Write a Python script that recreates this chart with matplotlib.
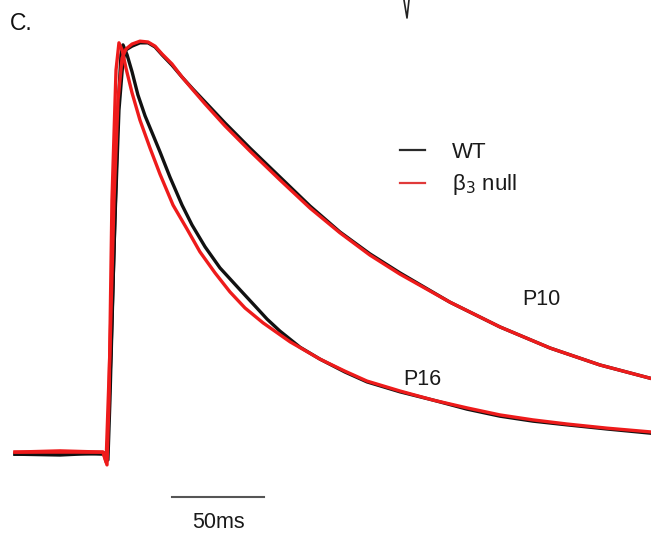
import matplotlib
matplotlib.use("Agg")
import matplotlib.pyplot as plt

plt.rcParams['font.family'] = ['Liberation Sans', 'DejaVu Sans']

# ---- data: time (ms) and normalized amplitude ----
p10_wt_t = [-50, -25.5, -1.6, 0, 2.2, 4.3, 6.5, 8.7, 10.3, 13.6, 17.9, 22.3, 26.1, 29.9,
            35.3, 40.8, 46.7, 53.3, 64.1, 77.7, 94.0, 110.3, 126.6, 142.9, 159.2, 186.4,
            213.6, 240.8, 267.9, 295.1]
p10_wt_a = [0.002, 0.005, 0.002, -0.007, 0.254, 0.569, 0.835, 0.956, 0.981, 0.990, 0.998,
            0.998, 0.988, 0.969, 0.944, 0.915, 0.886, 0.855, 0.804, 0.743, 0.673, 0.603,
            0.540, 0.487, 0.441, 0.370, 0.310, 0.259, 0.218, 0.186]

p10_null_t = [-50, -25.5, -2.2, -0.5, 1.6, 3.8, 6.0, 8.2, 10.3, 13.6, 17.9, 22.3, 26.1,
              29.9, 35.3, 40.8, 46.7, 53.3, 64.1, 77.7, 94.0, 110.3, 126.6, 142.9, 159.2,
              186.4, 213.6, 240.8, 267.9, 295.1]
p10_null_a = [0.007, 0.010, 0.007, -0.017, 0.254, 0.617, 0.860, 0.961, 0.983, 0.995, 1.002,
              1.000, 0.990, 0.971, 0.947, 0.915, 0.884, 0.850, 0.797, 0.736, 0.666, 0.598,
              0.538, 0.484, 0.438, 0.370, 0.310, 0.259, 0.218, 0.186]

p16_wt_t = [-50, -25.5, -1.6, 0.5, 1.6, 3.8, 6.0, 7.6, 8.7, 10.9, 13.6, 16.8, 20.7, 25.0,
            28.8, 34.2, 40.8, 46.2, 53.3, 61.4, 72.3, 80.4, 87.0, 94.0, 104.9, 115.8,
            129.3, 141.3, 159.2, 177.2, 195.7, 213.6, 231.5, 250.0, 271.7, 295.1]
p16_wt_a = [0.002, 0.0, 0.005, -0.012, 0.133, 0.496, 0.835, 0.969, 0.993, 0.969, 0.928,
            0.872, 0.821, 0.775, 0.734, 0.673, 0.605, 0.557, 0.504, 0.453, 0.400, 0.361,
            0.329, 0.300, 0.261, 0.232, 0.201, 0.177, 0.153, 0.133, 0.111, 0.094, 0.082,
            0.073, 0.063, 0.053]

p16_null_t = [-50, -25.5, -2.2, 0, 1.1, 2.7, 4.9, 6.5, 8.2, 10.3, 13.6, 17.9, 23.4, 28.8,
              35.9, 43.5, 50.5, 58.7, 66.8, 75.0, 84.8, 99.5, 115.8, 129.3,
              141.3, 159.2, 177.2, 195.7, 213.6, 231.5, 250.0, 271.7, 295.1]
p16_null_a = [0.007, 0.007, 0.007, -0.024, 0.133, 0.617, 0.932, 0.998, 0.981, 0.937, 0.877,
              0.811, 0.743, 0.680, 0.605, 0.547, 0.492, 0.441, 0.395, 0.356, 0.320, 0.274,
              0.232, 0.203, 0.179, 0.155, 0.133, 0.114, 0.097, 0.085, 0.075, 0.065, 0.056]

legend_labels = ['WT', 'β$_3$ null']
trace_labels = ['P10', 'P16']
scale_bar_ms = 50
scale_bar_label = '50ms'
panel_label = 'C.'

# ---- figure ----
W, H = 651, 537
fig = plt.figure(figsize=(W / 100, H / 100), dpi=100)
ax = fig.add_axes([0, 0, 1, 1])
ax.set_axis_off()

px_per_ms = 1.84
x0 = 107.0
y0, y1 = 455.0, 42.0
amp_px = y0 - y1
ax.set_xlim(-x0 / px_per_ms, (W - x0) / px_per_ms)
ax.set_ylim((y0 - H) / amp_px, y0 / amp_px)

def fp(x, y):
    return x / W, 1 - y / H

BLACK = '#111111'
RED = '#ee1b1b'
lw = 2.4

ax.plot(p10_wt_t, p10_wt_a, color=BLACK, lw=lw, solid_joinstyle='round')
ax.plot(p16_wt_t, p16_wt_a, color=BLACK, lw=lw, solid_joinstyle='round')
ax.plot(p10_null_t, p10_null_a, color=RED, lw=lw, solid_joinstyle='round')
ax.plot(p16_null_t, p16_null_a, color=RED, lw=lw, solid_joinstyle='round')

# legend (manual)
ax.plot([fp(400, 0)[0], fp(425, 0)[0]], [fp(0, 150)[1]] * 2, color='#2a2a2a', lw=1.6,
        transform=ax.transAxes)
ax.plot([fp(400, 0)[0], fp(425, 0)[0]], [fp(0, 183)[1]] * 2, color='#e03a3a', lw=1.6,
        transform=ax.transAxes)
ax.text(*fp(452, 158), legend_labels[0], fontsize=16, color='#1a1a1a',
        transform=ax.transAxes, va='baseline', ha='left')
ax.text(*fp(452, 190), legend_labels[1], fontsize=16, color='#1a1a1a',
        transform=ax.transAxes, va='baseline', ha='left')

# trace labels
ax.text(*fp(522, 305), trace_labels[0], fontsize=15.5, color='#1a1a1a',
        transform=ax.transAxes, va='baseline', ha='left')
ax.text(*fp(403, 385), trace_labels[1], fontsize=15.5, color='#1a1a1a',
        transform=ax.transAxes, va='baseline', ha='left')

# scale bar
sb_start = (172 - x0) / px_per_ms
sb_y = (y0 - 497) / amp_px
ax.plot([sb_start, sb_start + scale_bar_ms], [sb_y, sb_y], color='#555555', lw=1.5)
ax.text(*fp(192, 528), scale_bar_label, fontsize=15.5, color='#1a1a1a',
        transform=ax.transAxes, va='baseline', ha='left')

# panel label
ax.text(*fp(10, 30), panel_label, fontsize=16.5, color='#111111',
        transform=ax.transAxes, va='baseline', ha='left')

# fragment of neighbouring panel at top
ax.plot([fp(404, 0)[0], fp(407, 18)[0], fp(409, 0)[0]],
        [fp(0, 0)[1], fp(0, 18)[1], fp(0, 0)[1]], color='#222222', lw=1.2,
        transform=ax.transAxes)

fig.savefig('out.png', dpi=100, facecolor='white')
